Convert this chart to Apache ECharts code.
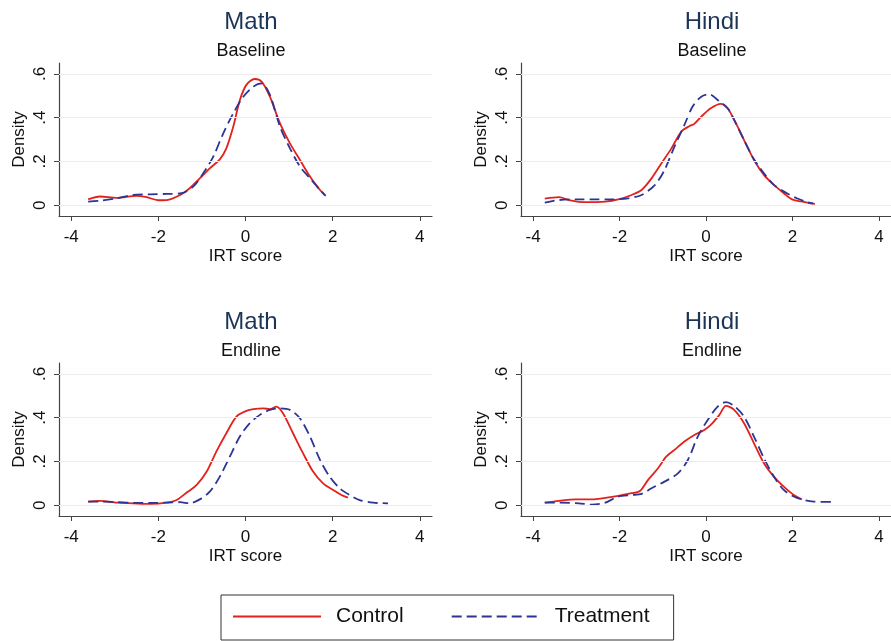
<!DOCTYPE html>
<html>
<head>
<meta charset="utf-8">
<script src="https://cdn.jsdelivr.net/npm/echarts@6/dist/echarts.min.js"></script>
<style>
html,body{margin:0;padding:0;background:#fff;}
#c{width:891px;height:641px;}
</style>
</head>
<body>
<div id="c"></div>
<script>
var panelTitles = ["Math", "Hindi", "Math", "Hindi"];
var panelSubtitles = ["Baseline", "Baseline", "Endline", "Endline"];
var xTicks = [-4, -2, 0, 2, 4];
var yTicks = [0, 0.2, 0.4, 0.6];

var mathBaseControl = [[-3.61,0.027],[-3.34,0.04],[-2.96,0.034],[-2.5,0.043],[-2.27,0.037],[-2.0,0.023],[-1.81,0.024],[-1.5,0.047],[-1.28,0.078],[-1.05,0.123],[-0.82,0.169],[-0.59,0.21],[-0.44,0.26],[-0.28,0.36],[-0.13,0.48],[0.02,0.55],[0.21,0.577],[0.37,0.565],[0.56,0.496],[0.79,0.375],[1.02,0.283],[1.25,0.207],[1.48,0.131],[1.71,0.07],[1.82,0.047]];
var mathBaseTreat = [[-3.61,0.017],[-3.34,0.021],[-2.96,0.032],[-2.58,0.047],[-2.19,0.05],[-1.81,0.052],[-1.47,0.055],[-1.2,0.085],[-0.97,0.146],[-0.74,0.222],[-0.51,0.329],[-0.28,0.42],[-0.05,0.496],[0.18,0.542],[0.37,0.557],[0.56,0.504],[0.79,0.36],[1.02,0.26],[1.25,0.177],[1.48,0.123],[1.71,0.07],[1.84,0.043]];
var hindiBaseControl = [[-3.73,0.03],[-3.4,0.037],[-3.17,0.024],[-2.79,0.014],[-2.33,0.017],[-2.03,0.027],[-1.72,0.047],[-1.49,0.07],[-1.26,0.123],[-1.03,0.192],[-0.8,0.26],[-0.57,0.337],[-0.38,0.362],[-0.27,0.372],[-0.11,0.405],[0.11,0.443],[0.34,0.463],[0.5,0.443],[0.69,0.375],[0.88,0.298],[1.11,0.207],[1.34,0.139],[1.57,0.093],[1.8,0.055],[1.99,0.027],[2.26,0.015],[2.41,0.009],[2.52,0.006]];
var hindiBaseTreat = [[-3.73,0.012],[-3.4,0.024],[-2.94,0.027],[-2.56,0.027],[-2.18,0.027],[-1.8,0.032],[-1.49,0.047],[-1.18,0.093],[-0.96,0.161],[-0.73,0.268],[-0.5,0.367],[-0.31,0.451],[-0.11,0.496],[0.08,0.507],[0.27,0.481],[0.5,0.443],[0.69,0.375],[0.88,0.298],[1.11,0.21],[1.34,0.146],[1.57,0.093],[1.87,0.055],[2.1,0.032],[2.33,0.015],[2.48,0.009]];
var mathEndControl = [[-3.61,0.017],[-3.34,0.02],[-2.96,0.012],[-2.58,0.009],[-2.19,0.006],[-1.81,0.012],[-1.58,0.024],[-1.35,0.058],[-1.12,0.093],[-0.89,0.154],[-0.67,0.245],[-0.44,0.329],[-0.21,0.405],[-0.02,0.428],[0.18,0.439],[0.41,0.443],[0.56,0.439],[0.71,0.451],[0.86,0.42],[1.09,0.329],[1.32,0.238],[1.55,0.154],[1.78,0.1],[2.01,0.07],[2.2,0.047],[2.35,0.035]];
var mathEndTreat = [[-3.61,0.017],[-3.34,0.017],[-2.96,0.015],[-2.58,0.011],[-2.19,0.011],[-1.81,0.012],[-1.5,0.014],[-1.28,0.009],[-1.05,0.027],[-0.82,0.062],[-0.59,0.131],[-0.36,0.222],[-0.13,0.314],[0.1,0.375],[0.33,0.413],[0.56,0.436],[0.79,0.443],[1.02,0.436],[1.25,0.397],[1.48,0.314],[1.71,0.207],[1.93,0.131],[2.16,0.078],[2.39,0.047],[2.62,0.024],[2.93,0.012],[3.27,0.009]];
var hindiEndControl = [[-3.73,0.012],[-3.4,0.02],[-3.02,0.027],[-2.64,0.027],[-2.33,0.034],[-2.03,0.043],[-1.72,0.055],[-1.53,0.065],[-1.34,0.116],[-1.11,0.169],[-0.92,0.222],[-0.73,0.253],[-0.5,0.291],[-0.27,0.321],[-0.04,0.344],[0.11,0.367],[0.31,0.413],[0.46,0.454],[0.65,0.436],[0.88,0.375],[1.11,0.283],[1.34,0.192],[1.57,0.131],[1.8,0.085],[2.03,0.047],[2.22,0.027]];
var hindiEndTreat = [[-3.73,0.012],[-3.4,0.012],[-2.94,0.009],[-2.64,0.003],[-2.33,0.012],[-2.03,0.04],[-1.72,0.047],[-1.49,0.052],[-1.26,0.078],[-0.96,0.108],[-0.65,0.146],[-0.42,0.207],[-0.19,0.314],[0.04,0.39],[0.27,0.451],[0.46,0.471],[0.65,0.454],[0.88,0.405],[1.11,0.314],[1.34,0.215],[1.57,0.131],[1.8,0.07],[2.03,0.04],[2.26,0.024],[2.49,0.017],[2.98,0.015]];

var controlData = [mathBaseControl, hindiBaseControl, mathEndControl, hindiEndControl];
var treatData = [mathBaseTreat, hindiBaseTreat, mathEndTreat, hindiEndTreat];

var FONT = "'Liberation Sans', Arial, Helvetica, sans-serif";
var RED = "#e3211c";
var BLUE = "#2c3596";

var gridPos = [
  {left: 59, top: 63, width: 373, height: 153},
  {left: 521, top: 63, width: 373, height: 153},
  {left: 59, top: 363, width: 373, height: 153},
  {left: 521, top: 363, width: 373, height: 153}
];
var titleCenters = [[246, 17, 46], [707, 17, 46], [246, 317, 346], [707, 317, 346]];

var grids = [], xAxes = [], yAxes = [], series = [], titles = [];
for (var i = 0; i < 4; i++) {
  grids.push(gridPos[i]);
  xAxes.push({
    gridIndex: i, type: 'value', min: -4.28, max: 4.28,
    name: 'IRT score', nameLocation: 'middle', nameGap: 32,
    nameTextStyle: {fontFamily: FONT, fontSize: 17, color: '#111'},
    axisLine: {onZero: false, lineStyle: {color: '#444', width: 1.2}},
    axisTick: {show: true, length: 5, customValues: xTicks, lineStyle: {color: '#444'}},
    axisLabel: {customValues: xTicks, margin: 13, fontFamily: FONT, fontSize: 17, color: '#111',
      formatter: function (v) { return String(v); }},
    splitLine: {show: false}
  });
  yAxes.push({
    gridIndex: i, type: 'value', min: -0.049, max: 0.65,
    name: 'Density', nameLocation: 'middle', nameGap: 31, nameRotate: 90,
    nameTextStyle: {fontFamily: FONT, fontSize: 17, color: '#111'},
    axisLine: {show: true, onZero: false, lineStyle: {color: '#444', width: 1.2}},
    axisTick: {show: true, length: 5, customValues: yTicks, lineStyle: {color: '#444'}},
    axisLabel: {customValues: yTicks, rotate: 90, margin: 10, fontFamily: FONT, fontSize: 17, color: '#111',
      formatter: function (v) { if (Math.abs(v) < 1e-9) return '0'; return String(Math.round(v * 10) / 10).replace(/^0/, ''); }},
    splitLine: {show: false}
  });
  series.push({
    type: 'line', name: 'grid' + i, xAxisIndex: i, yAxisIndex: i, data: [], z: 1, silent: true,
    markLine: {
      silent: true, symbol: 'none', label: {show: false}, animation: false,
      lineStyle: {color: '#ececec', type: 'solid', width: 1},
      data: yTicks.map(function (t) { return {yAxis: t}; })
    }
  });
  series.push({
    type: 'line', name: 'Control', xAxisIndex: i, yAxisIndex: i, data: controlData[i],
    smooth: 0.3, symbol: 'none', showSymbol: false, z: 3,
    lineStyle: {color: RED, width: 1.8, type: 'solid'}, itemStyle: {color: RED}
  });
  series.push({
    type: 'line', name: 'Treatment', xAxisIndex: i, yAxisIndex: i, data: treatData[i],
    smooth: 0.3, symbol: 'none', showSymbol: false, z: 4,
    lineStyle: {color: BLUE, width: 1.8, type: [10, 5]}, itemStyle: {color: BLUE}
  });
  titles.push({
    text: panelTitles[i], left: titleCenters[i][0], top: titleCenters[i][1], textAlign: 'center', textVerticalAlign: 'middle',
    textStyle: {fontFamily: FONT, fontSize: 24, fontWeight: 'normal', color: '#1c3557'}
  });
  titles.push({
    text: panelSubtitles[i], left: titleCenters[i][0], top: titleCenters[i][2], textAlign: 'center', textVerticalAlign: 'middle',
    textStyle: {fontFamily: FONT, fontSize: 18, fontWeight: 'normal', color: '#111'}
  });
}

var chart = echarts.init(document.getElementById('c'), null, {renderer: 'canvas'});
chart.setOption({
  animation: false,
  backgroundColor: '#fff',
  title: titles,
  grid: grids,
  xAxis: xAxes,
  yAxis: yAxes,
  legend: {
    data: ['Control', 'Treatment'],
    left: 221, top: 595,
    padding: [11, 24, 13, 11],
    itemWidth: 88, itemHeight: 14, itemGap: 47,
    borderColor: '#333', borderWidth: 1,
    itemStyle: {opacity: 0},
    textStyle: {fontFamily: FONT, fontSize: 21, color: '#111', padding: [0, 0, 0, 10]}
  },
  series: series
});
</script>
</body>
</html>
